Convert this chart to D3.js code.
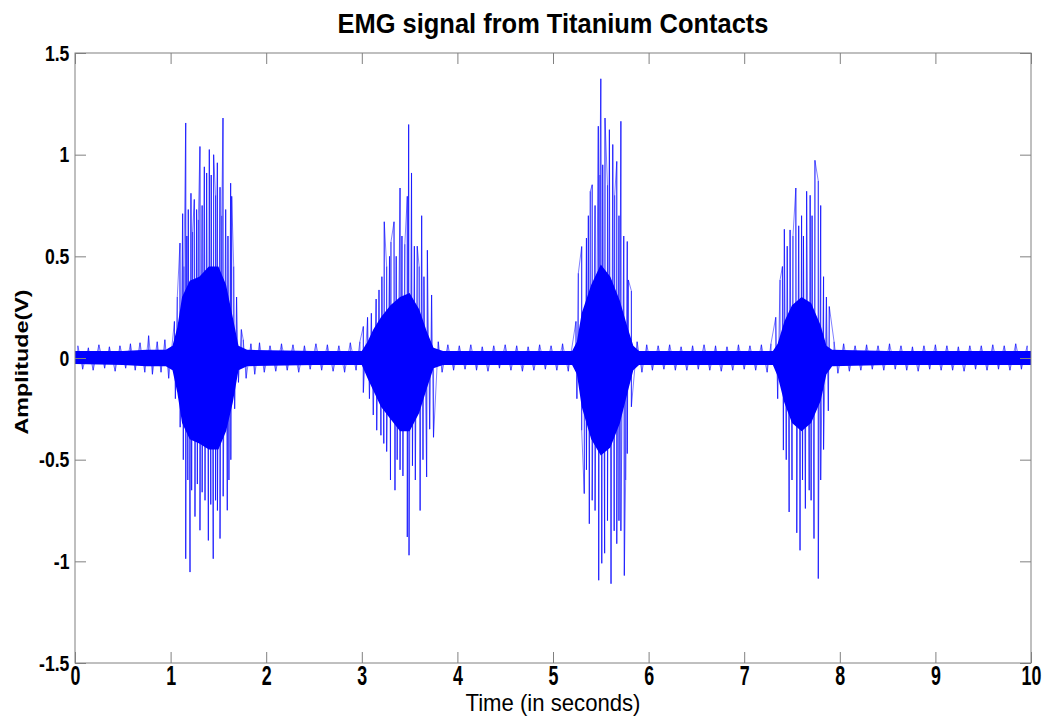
<!DOCTYPE html>
<html>
<head>
<meta charset="utf-8">
<script src="https://cdn.jsdelivr.net/npm/d3@7"></script>
<style>
  html, body { margin: 0; padding: 0; background: #fff; }
  svg text { font-family: "Liberation Sans", Arial, sans-serif; fill: #000; }
</style>
</head>
<body>
<div id="chart"></div>
<script>
// Axis ticks
const xTicks = [0, 1, 2, 3, 4, 5, 6, 7, 8, 9, 10];
const yTicks = [-1.5, -1, -0.5, 0, 0.5, 1, 1.5];

// Envelope of the dense part of the trace (seconds, volts)
const envT  = [0.00, 0.50, 0.75, 0.95, 1.02, 1.07, 1.12, 1.20, 1.30, 1.40, 1.50, 1.58, 1.65, 1.71, 1.80,
               2.50, 3.00, 3.06, 3.12, 3.20, 3.30, 3.40, 3.50, 3.60, 3.68, 3.75, 3.85,
               4.50, 5.20, 5.25, 5.30, 5.40, 5.50, 5.60, 5.70, 5.78, 5.84, 5.90,
               6.50, 7.30, 7.35, 7.42, 7.50, 7.60, 7.70, 7.80, 7.86, 7.92,
               8.50, 9.50, 10.0];
const envHi = [0.035, 0.035, 0.04, 0.04, 0.06, 0.15, 0.30, 0.38, 0.40, 0.45, 0.45, 0.36, 0.20, 0.06, 0.04,
               0.035, 0.035, 0.08, 0.14, 0.20, 0.26, 0.30, 0.32, 0.24, 0.13, 0.05, 0.035,
               0.035, 0.035, 0.08, 0.22, 0.36, 0.46, 0.40, 0.28, 0.15, 0.06, 0.035,
               0.035, 0.035, 0.07, 0.18, 0.26, 0.30, 0.27, 0.16, 0.06, 0.04,
               0.035, 0.035, 0.035];
const envLo = [-0.03, -0.035, -0.04, -0.04, -0.06, -0.17, -0.32, -0.40, -0.42, -0.45, -0.45, -0.36, -0.22, -0.06, -0.04,
               -0.035, -0.035, -0.10, -0.16, -0.24, -0.30, -0.36, -0.36, -0.27, -0.15, -0.05, -0.035,
               -0.035, -0.035, -0.08, -0.24, -0.40, -0.48, -0.44, -0.32, -0.17, -0.06, -0.035,
               -0.035, -0.035, -0.09, -0.22, -0.32, -0.36, -0.32, -0.21, -0.08, -0.04,
               -0.035, -0.035, -0.035];

const burst1 = [[1.04,0.18],[1.07,0.30],[1.098,0.565],[1.126,0.71],[1.14,0.45],[1.158,1.156],[1.17,0.60],[1.185,0.73],
  [1.213,0.81],[1.23,0.62],[1.248,0.78],[1.272,0.73],[1.29,0.68],[1.307,1.04],[1.33,0.75],[1.353,0.94],[1.377,0.91],
  [1.405,1.025],[1.425,0.90],[1.45,1.00],[1.47,0.80],[1.489,0.96],[1.517,0.84],[1.535,0.70],[1.548,1.18],[1.576,0.73],
  [1.60,0.60],[1.628,0.86],[1.639,0.795],[1.66,0.45],[1.69,0.30],[1.74,0.14],
  [1.05,-0.20],[1.10,-0.34],[1.133,-0.50],[1.158,-0.987],[1.18,-0.60],[1.203,-1.053],[1.22,-0.65],[1.255,-0.78],
  [1.28,-0.62],[1.307,-0.847],[1.33,-0.66],[1.36,-0.70],[1.395,-0.897],[1.42,-0.72],[1.446,-0.987],[1.47,-0.70],
  [1.49,-0.75],[1.517,-0.888],[1.55,-0.68],[1.593,-0.749],[1.61,-0.60],[1.63,-0.50],[1.67,-0.25],[1.71,-0.12]];
const burst2 = [[3.016,0.155],[3.06,0.20],[3.10,0.22],[3.15,0.29],[3.18,0.335],[3.21,0.40],[3.235,0.67],[3.26,0.45],
  [3.29,0.50],[3.305,0.57],[3.337,0.67],[3.36,0.50],[3.40,0.836],[3.42,0.60],[3.45,0.56],[3.476,0.795],[3.49,1.148],
  [3.52,0.91],[3.55,0.55],[3.58,0.55],[3.60,0.45],[3.626,0.70],[3.65,0.40],[3.686,0.53],[3.73,0.31],
  [3.016,-0.17],[3.08,-0.20],[3.12,-0.28],[3.156,-0.355],[3.20,-0.38],[3.23,-0.42],[3.26,-0.46],[3.30,-0.60],
  [3.347,-0.65],[3.37,-0.50],[3.40,-0.55],[3.43,-0.58],[3.476,-0.88],[3.494,-0.97],[3.53,-0.53],[3.56,-0.60],
  [3.61,-0.75],[3.64,-0.50],[3.678,-0.585],[3.71,-0.35],[3.75,-0.39]];
const burst3 = [[5.24,0.18],[5.265,0.417],[5.30,0.548],[5.35,0.59],[5.37,0.70],[5.39,0.82],[5.41,0.852],[5.44,0.75],
  [5.474,1.14],[5.49,0.90],[5.50,1.373],[5.52,0.95],[5.544,1.18],[5.57,0.85],[5.59,1.123],[5.625,1.05],[5.645,0.80],
  [5.667,0.967],[5.69,0.70],[5.71,1.164],[5.74,0.60],[5.777,0.573],[5.788,0.384],[5.82,0.33],
  [5.25,-0.20],[5.30,-0.355],[5.327,-0.667],[5.35,-0.55],[5.38,-0.815],[5.41,-0.70],[5.44,-0.75],[5.478,-1.093],
  [5.51,-1.01],[5.54,-0.96],[5.57,-0.80],[5.607,-1.11],[5.64,-0.85],[5.667,-0.913],[5.69,-0.80],[5.71,-0.85],
  [5.746,-1.07],[5.76,-0.60],[5.777,-0.47],[5.82,-0.24]];
const burst4 = [[7.33,0.20],[7.375,0.384],[7.40,0.45],[7.42,0.633],[7.45,0.55],[7.48,0.63],[7.51,0.60],[7.54,0.836],
  [7.57,0.65],[7.60,0.70],[7.62,0.60],[7.653,0.82],[7.69,0.80],[7.71,0.70],[7.74,0.972],[7.775,0.87],[7.80,0.75],
  [7.83,0.40],[7.86,0.30],[7.89,0.253],
  [7.35,-0.20],[7.41,-0.453],[7.44,-0.50],[7.47,-0.757],[7.50,-0.60],[7.55,-0.86],[7.584,-0.946],[7.61,-0.60],
  [7.64,-0.74],[7.68,-0.65],[7.70,-0.70],[7.73,-0.888],[7.775,-1.085],[7.80,-0.60],[7.83,-0.45],[7.88,-0.26]];

// Small ragged peaks of the resting baseline
const restPeaks = [[0.03,0.06],[0.08,-0.055],[0.14,0.05],[0.19,-0.06],[0.25,0.065],[0.31,-0.05],[0.36,0.055],[0.42,-0.065],
  [0.47,0.06],[0.53,-0.05],[0.58,0.07],[0.63,-0.06],[0.68,0.075],[0.73,-0.07],[0.77,0.11],[0.81,-0.08],[0.86,0.08],
  [0.90,-0.07],[0.94,0.09],[0.98,-0.10],
  [1.76,0.09],[1.79,-0.10],[1.84,0.07],[1.88,-0.08],[1.93,0.075],[1.98,-0.07],[2.04,0.06],[2.10,-0.065],[2.16,0.07],
  [2.22,-0.06],[2.28,0.065],[2.34,-0.07],[2.40,0.06],[2.46,-0.055],[2.52,0.07],[2.58,-0.06],[2.64,0.065],[2.70,-0.065],
  [2.76,0.06],[2.82,-0.07],[2.88,0.075],[2.94,-0.06],[2.98,0.08],
  [3.80,0.08],[3.84,-0.07],[3.90,0.065],[3.96,-0.06],[4.02,0.06],[4.08,-0.055],[4.14,0.065],[4.20,-0.06],[4.26,0.055],
  [4.32,-0.065],[4.38,0.06],[4.44,-0.05],[4.50,0.065],[4.56,-0.06],[4.62,0.06],[4.68,-0.065],[4.74,0.055],[4.80,-0.06],
  [4.86,0.065],[4.92,-0.055],[4.98,0.06],[5.04,-0.06],[5.10,0.07],[5.16,-0.065],
  [5.88,0.08],[5.93,-0.07],[5.98,0.065],[6.04,-0.06],[6.10,0.06],[6.16,-0.055],[6.22,0.065],[6.28,-0.06],[6.34,0.055],
  [6.40,-0.06],[6.46,0.06],[6.52,-0.055],[6.58,0.065],[6.64,-0.06],[6.70,0.06],[6.76,-0.065],[6.82,0.055],[6.88,-0.06],
  [6.94,0.065],[7.00,-0.055],[7.06,0.06],[7.12,-0.06],[7.18,0.065],[7.24,-0.07],[7.28,0.07],
  [7.94,0.08],[7.98,-0.075],[8.04,0.07],[8.10,-0.065],[8.16,0.06],[8.22,-0.06],[8.28,0.065],[8.34,-0.055],[8.40,0.06],
  [8.46,-0.06],[8.52,0.07],[8.58,-0.055],[8.64,0.06],[8.70,-0.06],[8.76,0.055],[8.82,-0.065],[8.88,0.06],[8.94,-0.055],
  [9.00,0.065],[9.06,-0.06],[9.12,0.06],[9.18,-0.06],[9.24,0.055],[9.30,-0.065],[9.36,0.06],[9.42,-0.055],[9.48,0.06],
  [9.54,-0.06],[9.60,0.065],[9.66,-0.055],[9.72,0.06],[9.78,-0.06],[9.84,0.07],[9.90,-0.055],[9.96,0.06]];

const W = 1050, H = 722;
const box = { left: 75, right: 1031, top: 53, bottom: 663 };
const axisGrey = '#808080';
const traceBlue = '#0000ff';

const svg = d3.select('#chart').append('svg')
    .attr('width', W)
    .attr('height', H);

const x = d3.scaleLinear().domain([0, 10]).range([box.left, box.right]);
const y = d3.scaleLinear().domain([-1.5, 1.5]).range([box.bottom, box.top]);

svg.append('clipPath').attr('id', 'plot-clip')
  .append('rect')
    .attr('x', box.left).attr('y', box.top)
    .attr('width', box.right - box.left).attr('height', box.bottom - box.top);

const plot = svg.append('g').attr('clip-path', 'url(#plot-clip)');

// Dense core of the trace
const envelope = envT.map((t, i) => ({ t: t, hi: envHi[i], lo: envLo[i] }));
const area = d3.area()
    .x(d => x(d.t))
    .y0(d => y(d.lo))
    .y1(d => y(d.hi));

plot.append('path')
    .datum(envelope)
    .attr('d', area)
    .attr('fill', traceBlue);

const allPeaks = restPeaks.concat(burst1, burst2, burst3, burst4)
    .sort((a, b) => a[0] - b[0]);

// Peaks as thin strokes from the zero line
plot.append('g')
  .selectAll('line')
  .data(allPeaks)
  .join('line')
    .attr('x1', d => x(d[0]))
    .attr('x2', d => x(d[0]))
    .attr('y1', y(0))
    .attr('y2', d => y(d[1]))
    .attr('stroke', traceBlue)
    .attr('stroke-opacity', 0.6)
    .attr('stroke-width', 1.1);

// Trace joining the peaks in time order
const line = d3.line()
    .x(d => x(d[0]))
    .y(d => y(d[1]));

plot.append('path')
    .datum(allPeaks)
    .attr('d', line)
    .attr('fill', 'none')
    .attr('stroke', traceBlue)
    .attr('stroke-opacity', 0.5)
    .attr('stroke-width', 1);

// Axes, ticks pointing inward
const xAxis = d3.axisBottom(x).tickValues(xTicks).tickSizeInner(-11).tickSizeOuter(0)
    .tickPadding(3).tickFormat(d => String(d));
const xTop = d3.axisTop(x).tickValues(xTicks).tickSizeInner(-11).tickSizeOuter(0).tickFormat('');
const yAxis = d3.axisLeft(y).tickValues(yTicks).tickSizeInner(-11).tickSizeOuter(0)
    .tickPadding(7).tickFormat(d => String(d));
const yRight = d3.axisRight(y).tickValues(yTicks).tickSizeInner(-11).tickSizeOuter(0).tickFormat('');

const gx = svg.append('g').attr('transform', `translate(0,${box.bottom})`).call(xAxis);
svg.append('g').attr('transform', `translate(0,${box.top})`).call(xTop);
const gy = svg.append('g').attr('transform', `translate(${box.left},0)`).call(yAxis);
svg.append('g').attr('transform', `translate(${box.right},0)`).call(yRight);

svg.selectAll('.domain').remove();
svg.selectAll('.tick line').attr('stroke', axisGrey);

gx.selectAll('.tick text')
    .attr('fill', '#000')
    .style('font-size', '27px')
    .style('font-weight', 'bold')
    .attr('transform', 'scale(0.66,1)');

gy.selectAll('.tick text')
    .attr('fill', '#000')
    .style('font-size', '22px')
    .style('font-weight', 'bold')
    .attr('transform', 'scale(0.8,1)');

// Frame
svg.append('rect')
    .attr('x', box.left).attr('y', box.top)
    .attr('width', box.right - box.left).attr('height', box.bottom - box.top)
    .attr('fill', 'none')
    .attr('stroke', axisGrey)
    .attr('stroke-width', 1);

// Title and axis labels
svg.append('text')
    .attr('x', (box.left + box.right) / 2)
    .attr('y', 33)
    .attr('text-anchor', 'middle')
    .attr('textLength', 431)
    .attr('lengthAdjust', 'spacingAndGlyphs')
    .style('font-size', '28px')
    .style('font-weight', 'bold')
    .text('EMG signal from Titanium Contacts');

svg.append('text')
    .attr('x', (box.left + box.right) / 2)
    .attr('y', 711)
    .attr('text-anchor', 'middle')
    .attr('textLength', 175)
    .attr('lengthAdjust', 'spacingAndGlyphs')
    .style('font-size', '24px')
    .text('Time (in seconds)');

svg.append('text')
    .attr('transform', 'translate(28,362) rotate(-90)')
    .attr('text-anchor', 'middle')
    .attr('textLength', 145)
    .attr('lengthAdjust', 'spacingAndGlyphs')
    .style('font-size', '18px')
    .style('font-weight', 'bold')
    .text('Amplitude(V)');
</script>
</body>
</html>
